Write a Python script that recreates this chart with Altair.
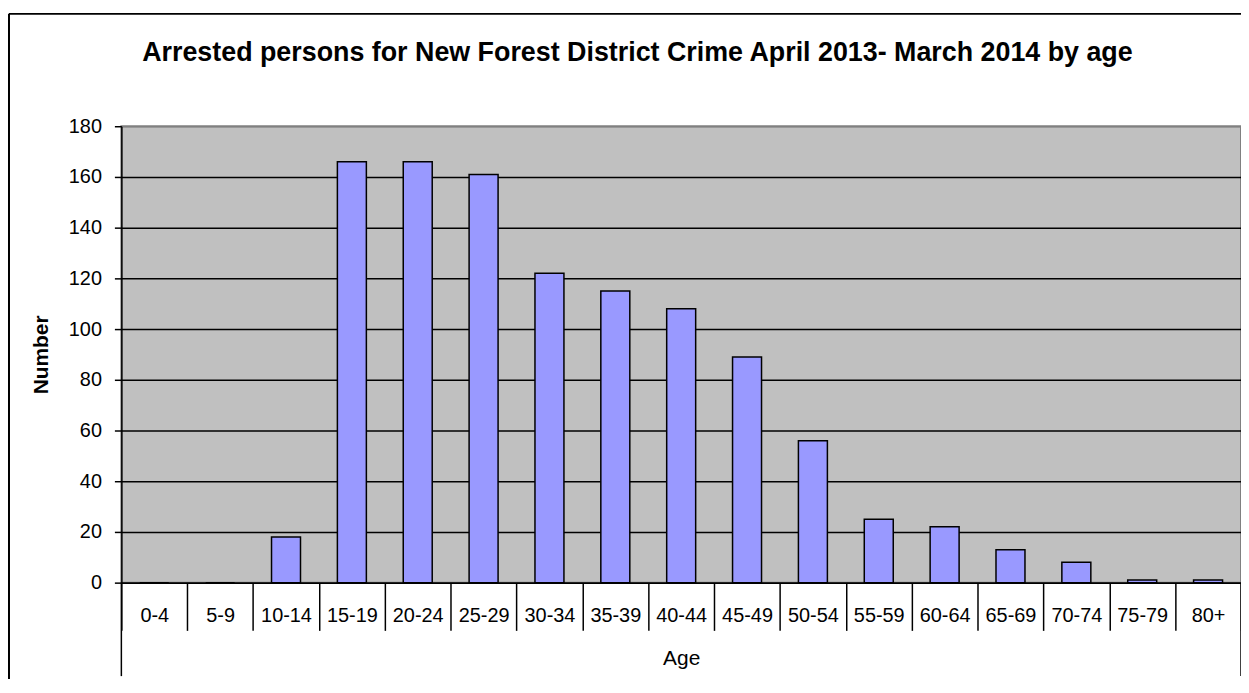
import altair as alt
import pandas as pd

ages = ["0-4", "5-9", "10-14", "15-19", "20-24", "25-29", "30-34", "35-39",
        "40-44", "45-49", "50-54", "55-59", "60-64", "65-69", "70-74", "75-79", "80+"]
counts = [0, 0, 18, 166, 166, 161, 122, 115, 108, 89, 56, 25, 22, 13, 8, 1, 1]
y_ticks = [0, 20, 40, 60, 80, 100, 120, 140, 160, 180]

title_text = "Arrested persons for New Forest District Crime April 2013- March 2014 by age"
FONT = "Liberation Sans"
W, H = 1126, 459

df = pd.DataFrame({"age": ages, "count": counts})

bars = alt.Chart(df).mark_bar(
    color="#9999FF", stroke="black", strokeWidth=1.5,
    width=alt.RelativeBandSize(0.44)
).encode(
    x=alt.X("age:N", sort=ages,
            scale=alt.Scale(paddingInner=0, paddingOuter=0),
            axis=alt.Axis(title="Age", labelAngle=0, tickBand="extent", tickSize=48,
                          tickColor="black", tickWidth=1.5, domainColor="black",
                          domainWidth=1.5, labelFont=FONT, labelFontSize=20,
                          labelColor="black", labelPadding=-9, labelBaseline="alphabetic",
                          titleFont=FONT, titleFontSize=21, titleFontWeight="normal",
                          titleColor="black", titlePadding=17, grid=False)),
    y=alt.Y("count:Q", scale=alt.Scale(domain=[0, 180], nice=False),
            axis=alt.Axis(title="Number", values=y_ticks, tickSize=7, tickColor="black",
                          tickWidth=1.5, domainColor="black", domainWidth=1.5,
                          labelFont=FONT, labelFontSize=20, labelColor="black",
                          labelPadding=13, titleFont=FONT, titleFontSize=21,
                          titleFontWeight="bold", titleColor="black", titlePadding=17,
                          grid=True, gridWidth=1.5,
                          gridColor={"condition": {"test": "datum.value === 180",
                                                   "value": "#808080"},
                                     "value": "black"}))
)

one = pd.DataFrame({"k": [0]})
deco = alt.Chart(one)
left_ext = deco.mark_rule(color="black", strokeWidth=1.5).encode(
    x=alt.value(0), y=alt.value(H), y2=alt.value(H + 94))
right_ext = deco.mark_rule(color="black", strokeWidth=1.5).encode(
    x=alt.value(W), y=alt.value(H), y2=alt.value(H + 94))
frame_v = deco.mark_rule(color="black", strokeWidth=2).encode(
    x=alt.value(-113), y=alt.value(-113), y2=alt.value(H + 200))
frame_h = deco.mark_rule(color="black", strokeWidth=2).encode(
    x=alt.value(-113), x2=alt.value(W + 100), y=alt.value(-113))

chart = alt.layer(bars, left_ext, right_ext, frame_v, frame_h).properties(
    width=W, height=H,
    title=alt.TitleParams(text=title_text, font=FONT, fontSize=27, fontWeight="bold",
                          color="black", anchor="middle", frame="group", dx=-44,
                          baseline="alphabetic", offset=-75),
    autosize=alt.AutoSizeParams(type="none"),
    padding={"left": 114, "top": 117, "right": 0, "bottom": 95},
).configure(background="white").configure_view(
    fill="#C0C0C0", stroke="#808080", strokeWidth=2
)

chart.save("out.html", embed_options={"renderer": "svg", "actions": False})
